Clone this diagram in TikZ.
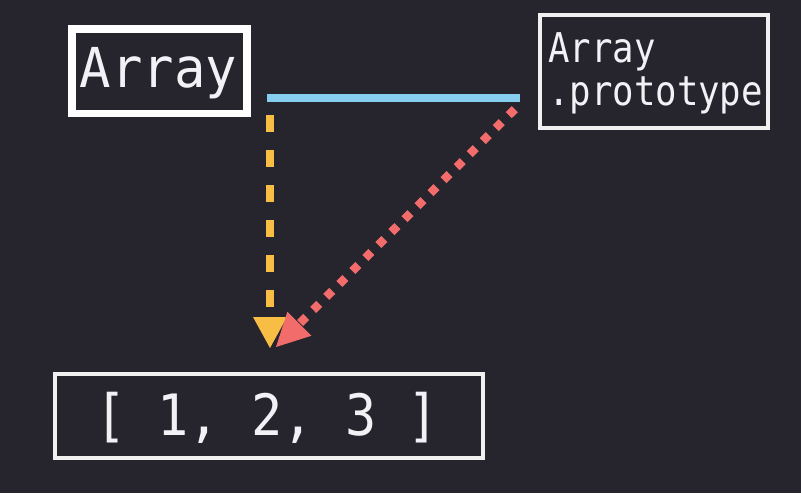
\documentclass[tikz,border=0pt]{standalone}
\usepackage{fontspec}
\usepackage{graphicx}
\usetikzlibrary{arrows.meta}
\newfontfamily\monofam{DejaVu Sans Mono}
\definecolor{bgc}{HTML}{26252D}
\definecolor{txtc}{HTML}{F2F2F6}
\definecolor{bluec}{HTML}{86CDEF}
\definecolor{yelc}{HTML}{F8BD45}
\definecolor{redc}{HTML}{F26C6C}
\tikzset{
  boxthick/.style={draw=white, line width=7.5pt, inner sep=0pt},
  boxchalk/.style={draw=white!88!gray, line width=4pt, inner sep=0pt},
  codetxt/.style={text=txtc, inner sep=0pt, font=\monofam},
  linkline/.style={bluec, line width=8pt},
  ownarrow/.style={yelc, line width=8pt, dash pattern=on 17pt off 18pt,
    -{Triangle[length=31pt,width=34pt,line width=0pt]}},
  protoarrow/.style={redc, line width=8.5pt, dash pattern=on 8.5pt off 9.9pt,
    -{Triangle[length=33pt,width=34pt,line width=0pt]}}
}
\begin{document}
\begin{tikzpicture}[x=1pt,y=-1pt]
\useasboundingbox (0,0) rectangle (801,493);
\fill[bgc] (0,0) rectangle (801,493);
% Array box
\node[boxthick, minimum width=175pt, minimum height=84.5pt] (arrbox) at (159.5,71.25) {};
\node[codetxt, anchor=base] (arrtxt) at (158.5,87) {\fontsize{55}{60}\selectfont\scalebox{0.95}[1]{Array}};
% Array.prototype box
\node[boxchalk, minimum width=228pt, minimum height=113pt] (protobox) at (654,71.5) {};
\node[codetxt, anchor=base west] (prototxta) at (548,62) {\fontsize{41}{44}\selectfont\scalebox{0.87}[1]{Array}};
\node[codetxt, anchor=base west] (prototxtb) at (548,105) {\fontsize{41}{44}\selectfont\scalebox{0.87}[1]{.prototype}};
% [1, 2, 3] box
\node[boxchalk, minimum width=428pt, minimum height=84pt] (instbox) at (269,416) {};
\node[codetxt, anchor=base] (insttxt) at (267,435) {\fontsize{57}{60}\selectfont\scalebox{0.91}[1]{[ 1, 2, 3 ]}};
% connector anchors
\coordinate (blueA) at (267,98);
\coordinate (blueB) at (520,98);
\coordinate (yelS) at (270,115);
\coordinate (yelT) at (270,348);
\coordinate (redS) at (514.8,109.2);
\coordinate (redT) at (276,347);
\draw[linkline] (blueA) -- (blueB);
\draw[ownarrow] (yelS) -- (yelT);
\draw[protoarrow] (redS) -- (redT);
\end{tikzpicture}
\end{document}
